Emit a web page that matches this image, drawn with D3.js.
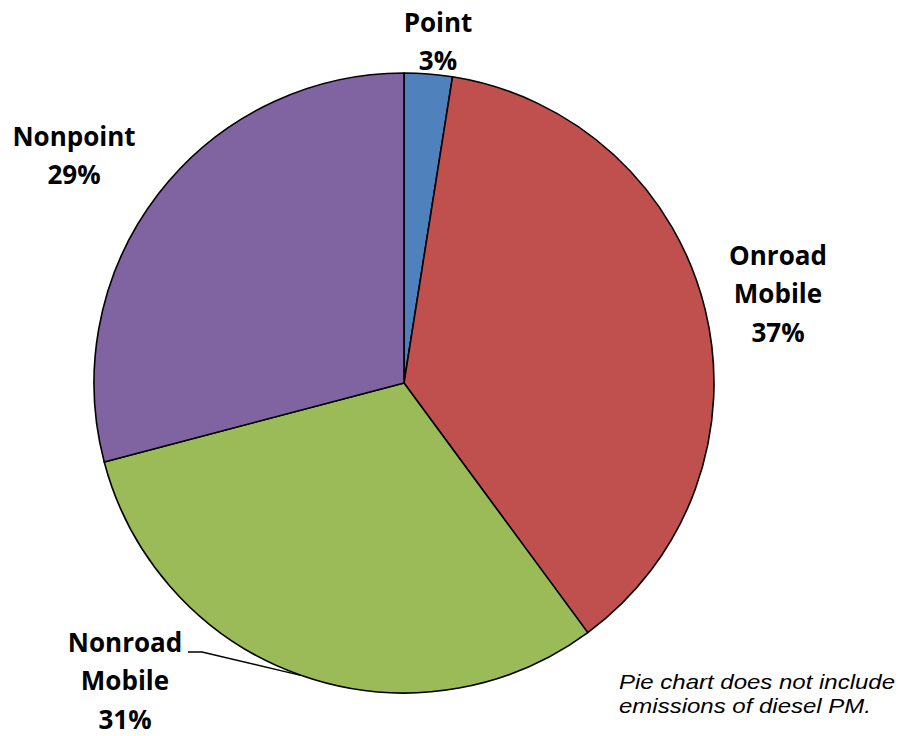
<!DOCTYPE html>
<html>
<head>
<meta charset="utf-8">
<script src="https://cdn.jsdelivr.net/npm/d3@7"></script>
<style>
  html, body { margin: 0; padding: 0; background: #fff; }
  svg { display: block; }
</style>
</head>
<body>
<svg id="chart" width="899" height="736"></svg>
<script>
// Emission source shares (percent)
const categories = ["Point", "Onroad Mobile", "Nonroad Mobile", "Nonpoint"];
const shares = [2.5, 37.4, 31.0, 29.1];
const colors = ["#4F81BD", "#C0504D", "#9BBB59", "#8064A2"];
const note = ["Pie chart does not include", "emissions of diesel PM."];

const svg = d3.select("#chart");
const cx = 404, cy = 383, radius = 310;

const pie = d3.pie().sort(null).value(d => d.value);
const arc = d3.arc().innerRadius(0).outerRadius(radius);

const data = categories.map((c, i) => ({ name: c, value: shares[i], color: colors[i] }));
const arcs = pie(data);

const g = svg.append("g").attr("transform", `translate(${cx},${cy})`);

g.selectAll("path.slice")
  .data(arcs)
  .enter().append("path")
  .attr("class", "slice")
  .attr("d", arc)
  .attr("fill", d => d.data.color)
  .attr("stroke", "#000")
  .attr("stroke-width", 1.6)
  .attr("stroke-linejoin", "round");

// Label block centres, relative to the pie centre
const labelLayout = [
  { dx: 34, dy: -341 },
  { dx: 374, dy: -89 },
  { dx: -279, dy: 298 },
  { dx: -330, dy: -227 }
];

const lineH = 38.5;
const fmt = v => Math.round(v) + "%";

arcs.forEach((a, i) => {
  const lines = a.data.name.split(" ").concat([fmt(a.data.value)]);
  const L = labelLayout[i];
  const t = g.append("text")
    .attr("text-anchor", "middle")
    .attr("font-family", "'Open Sans', sans-serif")
    .attr("font-weight", "bold")
    .attr("font-size", 26)
    .attr("fill", "#000");
  const n = lines.length;
  lines.forEach((ln, j) => {
    t.append("tspan")
      .attr("x", L.dx)
      .attr("y", L.dy + (j - (n - 1) / 2) * lineH + 9)
      .text(ln);
  });
});

// Leader line for the Nonroad Mobile label
const nr = arcs[2];
const leaderAngle = (nr.startAngle + nr.endAngle) / 2;
const edge = [radius * Math.sin(leaderAngle), -radius * Math.cos(leaderAngle)];
g.append("polyline")
  .attr("points", [[-216, 269], [-202, 269], edge].map(p => p.join(",")).join(" "))
  .attr("fill", "none")
  .attr("stroke", "#000")
  .attr("stroke-width", 1.3);

// Footnote
const nt = svg.append("text")
  .attr("transform", "translate(619,0) scale(1.2,1)")
  .attr("font-family", "'Liberation Sans', Arial, sans-serif")
  .attr("font-style", "italic")
  .attr("font-size", 20)
  .attr("fill", "#000");
note.forEach((ln, j) => {
  nt.append("tspan").attr("x", 0).attr("y", 689 + j * 24).text(ln);
});
</script>
</body>
</html>
